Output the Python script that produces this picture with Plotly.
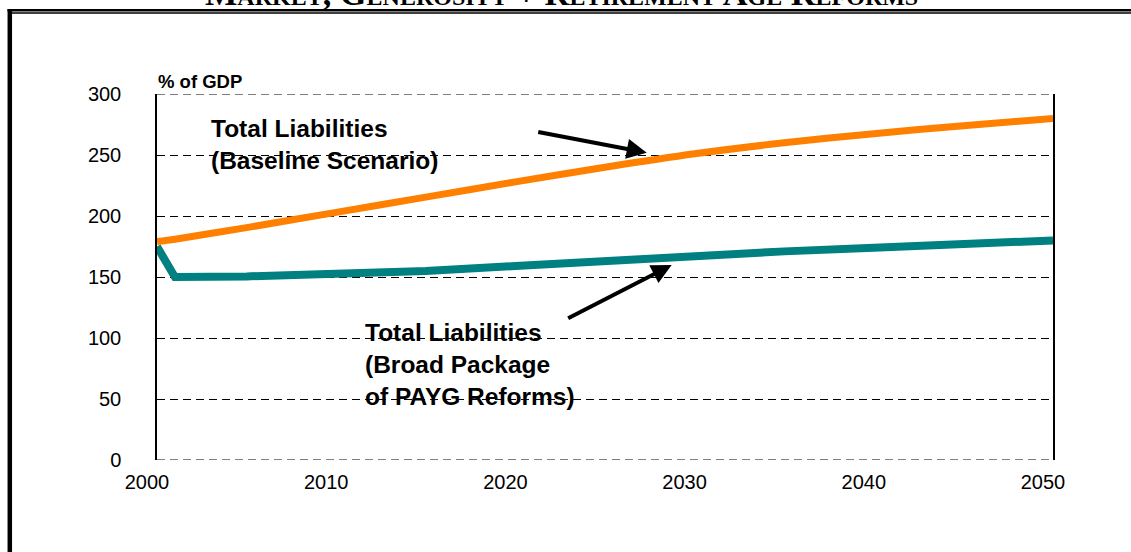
import plotly.graph_objects as go

# data (% of GDP)
years = [2000, 2001, 2005, 2010, 2015, 2020, 2025, 2030, 2035, 2040, 2045, 2050]
baseline = [179, 181, 190.5, 203, 215.5, 228, 240, 251, 260, 267.5, 274, 280]
payg_reforms = [175, 150, 150.5, 152, 155, 159, 163.5, 168, 171, 174, 177, 180]

x_ticks = [2000, 2010, 2020, 2030, 2040, 2050]
y_ticks = [0, 50, 100, 150, 200, 250, 300]

W, H = 1131, 552
L, R, T, B = 157, 78, 94, 92


# pixel -> paper helpers for the page decorations
def px(x):
    return (x - L) / (W - L - R)


def py(y):
    return (H - B - y) / (H - T - B)


sans = "Liberation Sans, Arial, sans-serif"
dash = "8px,5px"

fig = go.Figure()
fig.add_trace(go.Scatter(x=years, y=payg_reforms, mode="lines",
                         line=dict(color="#008080", width=8)))
fig.add_trace(go.Scatter(x=years, y=baseline, mode="lines",
                         line=dict(color="#FF8000", width=7,
                                   shape="spline", smoothing=0.8)))

fig.update_layout(
    width=W, height=H,
    margin=dict(l=L, r=R, t=T, b=B),
    paper_bgcolor="white", plot_bgcolor="white",
    showlegend=False,
    font=dict(family=sans, size=20, color="black"),
)
fig.update_xaxes(range=[2000, 2050], tickvals=x_ticks, showgrid=False,
                 zeroline=False, showline=False, ticks="",
                 ticklabelshift=-10, ticklabelstandoff=8)
fig.update_yaxes(range=[0, 300], tickvals=y_ticks, showgrid=True,
                 gridcolor="black", griddash=dash, gridwidth=1,
                 zeroline=False, showline=True, linecolor="black",
                 linewidth=1.5, mirror=True, ticks="",
                 ticklabelstandoff=30)

# plotly skips the grid at the range ends; the chart has dashed edges there
for v in (y_ticks[0], y_ticks[-1]):
    fig.add_shape(type="line", xref="paper", yref="y", x0=0, x1=1, y0=v, y1=v,
                  line=dict(color="black", width=1, dash=dash), layer="below")

# arrows + labels
fig.add_annotation(x=2027.33, y=251.9, ax=-110, ay=-21, text="",
                   showarrow=True, arrowhead=2, arrowsize=1,
                   arrowwidth=4, arrowcolor="black")
fig.add_annotation(x=2028.72, y=159.8, ax=-105, ay=54, text="",
                   showarrow=True, arrowhead=2, arrowsize=1,
                   arrowwidth=4, arrowcolor="black")
fig.add_annotation(x=2002.9, y=258.5, xanchor="left", yanchor="middle",
                   showarrow=False, align="left",
                   text="<b>Total Liabilities<br>(Baseline Scenario)</b>",
                   font=dict(size=24.5))
fig.add_annotation(x=2011.5, y=78, xanchor="left", yanchor="middle",
                   showarrow=False, align="left",
                   text="<b>Total Liabilities<br>(Broad Package<br>of PAYG Reforms)</b>",
                   font=dict(size=24.5))
fig.add_annotation(xref="paper", yref="paper", x=0, y=py(93),
                   xanchor="left", yanchor="bottom", showarrow=False,
                   text="<b>% of GDP</b>", font=dict(size=18.5), borderpad=0)

# clipped page heading
fig.add_annotation(xref="paper", yref="paper", x=px(561), y=py(14),
                   xanchor="center", yanchor="bottom", showarrow=False,
                   text="<b>Market, Generosity + Retirement Age Reforms</b>",
                   font=dict(family="Liberation Serif, Times New Roman, serif",
                             size=34.3, variant="small-caps"))

# page frame
frame = [
    dict(x0=px(7.5), x1=px(W), y0=py(10.2), y1=py(10.2), w=2.5),
    dict(x0=px(12), x1=px(W), y0=py(13), y1=py(13), w=1.3),
    dict(x0=px(9.8), x1=px(9.8), y0=py(9), y1=py(H), w=4.5),
]
for f in frame:
    fig.add_shape(type="line", xref="paper", yref="paper",
                  x0=f["x0"], x1=f["x1"], y0=f["y0"], y1=f["y1"],
                  line=dict(color="black", width=f["w"]))

fig.write_html("out.html", config={"displayModeBar": False},
               post_script="document.body.style.margin='0';")
